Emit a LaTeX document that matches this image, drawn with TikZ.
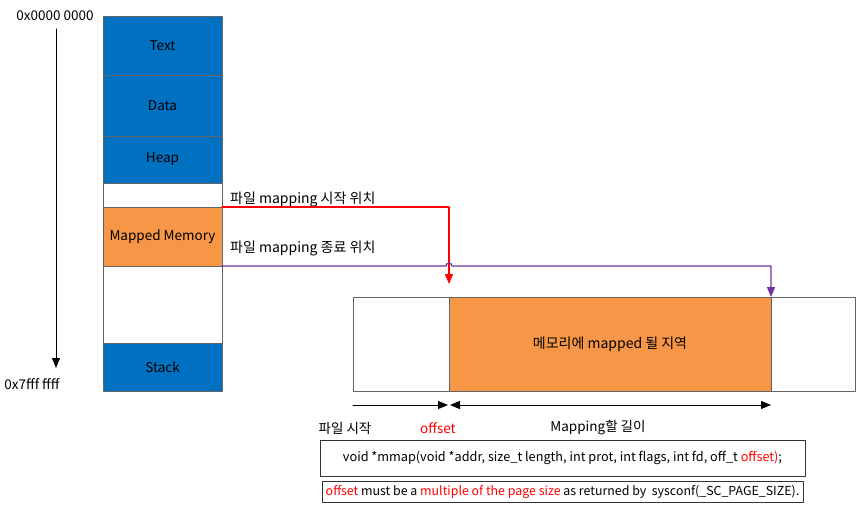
\documentclass[tikz,border=0pt]{standalone}
\usepackage{fontspec}
\setmainfont{Noto Sans CJK KR}
\usetikzlibrary{arrows.meta,positioning,calc}
\definecolor{segblue}{RGB}{0,112,192}
\definecolor{maporange}{RGB}{247,150,70}
\definecolor{endpurple}{RGB}{112,48,160}
\definecolor{edgegray}{RGB}{100,100,100}

\begin{document}
\begin{tikzpicture}[line cap=round,line join=round,>={Triangle[length=10pt,width=8pt]},x=1pt,y=-1pt,
	seg/.style={draw=edgegray,line width=0.8pt,minimum width=119pt,inner sep=0pt,outer sep=0pt,font=\fontsize{13.5}{15}\selectfont},
	lbl/.style={inner sep=1pt,font=\fontsize{13.5}{15}\selectfont},
	codebox/.style={draw=black!80,line width=1pt,inner sep=0pt,outer sep=0pt,font=\fontsize{12.7}{14}\selectfont}]
	\useasboundingbox (0,0) rectangle (862,508);
	% address axis
	\node[lbl] (lo) at (55,16) {0x0000 0000};
	\node[lbl] (hi) at (32,384) {0x7fff ffff};
	\coordinate (axtop) at (56,29);
	\coordinate (axbot) at (56,368);
	\draw[->,line width=1pt] (axtop) -- (axbot);
	% process memory
	\node[seg,fill=segblue,minimum height=59pt] (text) at (162.5,45.5) {Text};
	\node[seg,fill=segblue,minimum height=61pt,below=0pt of text] (data) {Data};
	\node[seg,fill=segblue,minimum height=47pt,below=0pt of data] (heap) {Heap};
	\node[seg,minimum height=24pt,below=0pt of heap] (gapa) {};
	\node[seg,fill=maporange,minimum height=59pt,below=0pt of gapa] (mapped) {Mapped Memory};
	\node[seg,minimum height=77pt,below=0pt of mapped] (gapb) {};
	\node[seg,fill=segblue,minimum height=48pt,below=0pt of gapb] (stack) {Stack};
	% file
	\node[seg,minimum width=96pt,minimum height=94pt] (pre) at (401,344) {};
	\node[seg,fill=maporange,minimum width=322pt,minimum height=94pt,right=0pt of pre] (region) {\fontsize{14}{15}\selectfont 메모리에 mapped 될 지역};
	\node[seg,minimum width=84pt,minimum height=94pt,right=0pt of pre.east,xshift=322pt] (post) {};
	% mapping start / end
	\node[lbl,anchor=west,font=\fontsize{14}{15}\selectfont] (startlbl) at (229,199) {파일 mapping 시작 위치};
	\node[lbl,anchor=west,font=\fontsize{14}{15}\selectfont] (endlbl) at (229,248) {파일 mapping 종료 위치};
	\draw[red,->,line width=1.2pt,shorten >=13pt] (mapped.north east) -| (region.north west);
	\coordinate (hop) at (mapped.south east -| region.north west);
	\draw[endpurple,->,line width=1.2pt] (mapped.south east) -- ([xshift=-3pt]hop) arc[start angle=180,end angle=0,radius=3pt] -| (region.north east);
	% offset and length
	\coordinate (fs) at ($(pre.south west)+(0,14)$);
	\coordinate (os) at ($(region.south west)+(0,14)$);
	\coordinate (oe) at ($(region.south east)+(0,14)$);
	\draw[->,line width=1pt] (fs) -- ([xshift=-1pt]os);
	\draw[<->,line width=1pt] ([xshift=1pt]os) -- (oe);
	\node[lbl] (filestart) at (345,428) {파일 시작};
	\node[lbl,text=red] (offlbl) at (438,428) {offset};
	\node[lbl] (lenlbl) at (598,428) {Mapping할 길이};
	% prototype
	\node[codebox,minimum width=485pt,minimum height=36pt] (proto) at (562.5,458) {void *mmap(void *addr, size\_t length, int prot, int flags, int fd, off\_t \textcolor{red}{offset)};};
	\node[codebox,minimum width=481pt,minimum height=21pt] (note) at (562.5,491.5) {\fontsize{12.4}{13}\selectfont\textcolor{red}{offset} must be a \textcolor{red}{multiple of the page size} as returned by ~sysconf(\_SC\_PAGE\_SIZE).};
\end{tikzpicture}
\end{document}
